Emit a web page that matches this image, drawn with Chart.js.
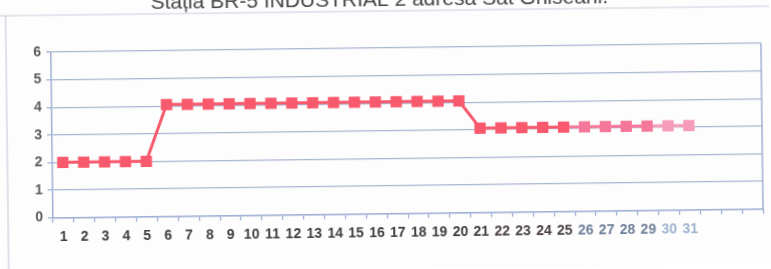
<!DOCTYPE html>
<html>
<head>
<meta charset="utf-8">
<script src="https://cdn.jsdelivr.net/npm/chart.js@4"></script>
<style>
  html, body { margin: 0; padding: 0; background: #fff; overflow: hidden; }
  #wrap { width: 771px; height: 269px; overflow: hidden; position: relative; background: #fff; }
  /* the scan is a little crooked, so tilt the whole chart the same way */
  #wrap canvas { position: absolute; left: 0; top: -10px; transform: rotate(-0.72deg); }
</style>
</head>
<body>
<div id="wrap"><canvas id="statieChart" width="771" height="279"></canvas></div>
<script>
// zilele lunii (3 coloane goale la final, ca in original)
const zile = ["1", "2", "3", "4", "5", "6", "7", "8", "9", "10",
  "11", "12", "13", "14", "15", "16", "17", "18", "19", "20",
  "21", "22", "23", "24", "25", "26", "27", "28", "29", "30", "31",
  "", "", ""];

const valori = [2.0, 2.0, 2.0, 2.0, 2.0,
  4.05, 4.05, 4.05, 4.05, 4.05, 4.05, 4.05, 4.05, 4.05, 4.05,
  4.05, 4.05, 4.05, 4.05, 4.05,
  3.05, 3.05, 3.05, 3.05, 3.05, 3.05, 3.05, 3.05, 3.05, 3.05, 3.05];

const yTicks = [0, 1, 2, 3, 4, 5, 6];

const titlu = "Stația BR-5 INDUSTRIAL 2 adresa Sat Ghiseani.";

// culoarea se stinge spre dreapta pe scan
function culoarePunct(i) {
  if (i >= 29) return "#f79bba";
  if (i >= 25) return "#f5789a";
  return "#f8596c";
}
function culoareEticheta(i) {
  if (i >= 29) return "#9db3cf";
  if (i >= 25) return "#6f8098";
  if (i >= 21) return "#4a4040";
  return "#3e3e3e";
}

const ramaPlugin = {
  id: "rama",
  beforeDraw(chart) {
    const c = chart.ctx;
    c.save();
    c.fillStyle = "#fdfdfd";
    c.fillRect(0, 0, chart.width, chart.height);
    c.strokeStyle = "#c8cfdd";
    c.lineWidth = 1.2;
    c.beginPath();
    c.moveTo(0, 21);
    c.lineTo(chart.width, 21);
    c.moveTo(7, 21);
    c.lineTo(7, chart.height);
    c.stroke();
    c.restore();
  },
  afterDatasetsDraw(chart) {
    const a = chart.chartArea;
    const c = chart.ctx;
    c.save();
    c.strokeStyle = "#9fb0d6";
    c.lineWidth = 1.5;
    c.beginPath();
    c.moveTo(a.right, a.top);
    c.lineTo(a.right, a.bottom);
    c.stroke();
    c.restore();
  }
};

const ctx = document.getElementById("statieChart").getContext("2d");

new Chart(ctx, {
  type: "line",
  data: {
    labels: zile,
    datasets: [
      {
        data: valori,
        borderColor: "#f8596c",
        borderWidth: 3,
        segment: {
          borderColor: s => culoarePunct(s.p1DataIndex)
        },
        pointStyle: "rect",
        pointRadius: 8,
        pointBorderWidth: 0,
        pointBackgroundColor: c => culoarePunct(c.dataIndex),
        pointBorderColor: c => culoarePunct(c.dataIndex),
        tension: 0
      }
    ]
  },
  options: {
    responsive: false,
    animation: false,
    events: [],
    layout: { padding: { left: 0, right: 9, top: 0, bottom: 0 } },
    plugins: {
      legend: { display: false },
      tooltip: { enabled: false },
      title: {
        display: true,
        text: titlu,
        color: "#454545",
        font: { family: "Liberation Sans, Arial, sans-serif", size: 21, weight: "normal", lineHeight: 1 },
        padding: { top: 0, bottom: 37 }
      }
    },
    scales: {
      x: {
        offset: true,
        grid: {
          offset: true,
          drawOnChartArea: false,
          drawTicks: true,
          tickLength: 5,
          tickColor: "#9fb0d6",
          tickWidth: 1.3
        },
        border: { color: "#9fb0d6", width: 1.5 },
        ticks: {
          autoSkip: false,
          maxRotation: 0,
          padding: 6,
          color: c => culoareEticheta(c.index),
          font: { family: "Liberation Sans Narrow, Liberation Sans, Arial, sans-serif", size: 14, weight: "bold" }
        },
        afterFit(scale) { scale.height = 55.5; }
      },
      y: {
        min: yTicks[0],
        max: yTicks[yTicks.length - 1],
        afterBuildTicks(scale) { scale.ticks = yTicks.map(v => ({ value: v })); },
        grid: {
          color: "#aab6d2",
          lineWidth: 1.3,
          tickLength: 5,
          tickColor: "#9fb0d6"
        },
        border: { color: "#9fb0d6", width: 1.5 },
        ticks: {
          padding: 5,
          color: "#5b5b5b",
          font: { family: "Liberation Sans, Arial, sans-serif", size: 14, weight: "bold" }
        },
        afterFit(scale) { scale.width = 52; }
      }
    }
  },
  plugins: [ramaPlugin]
});
</script>
</body>
</html>
